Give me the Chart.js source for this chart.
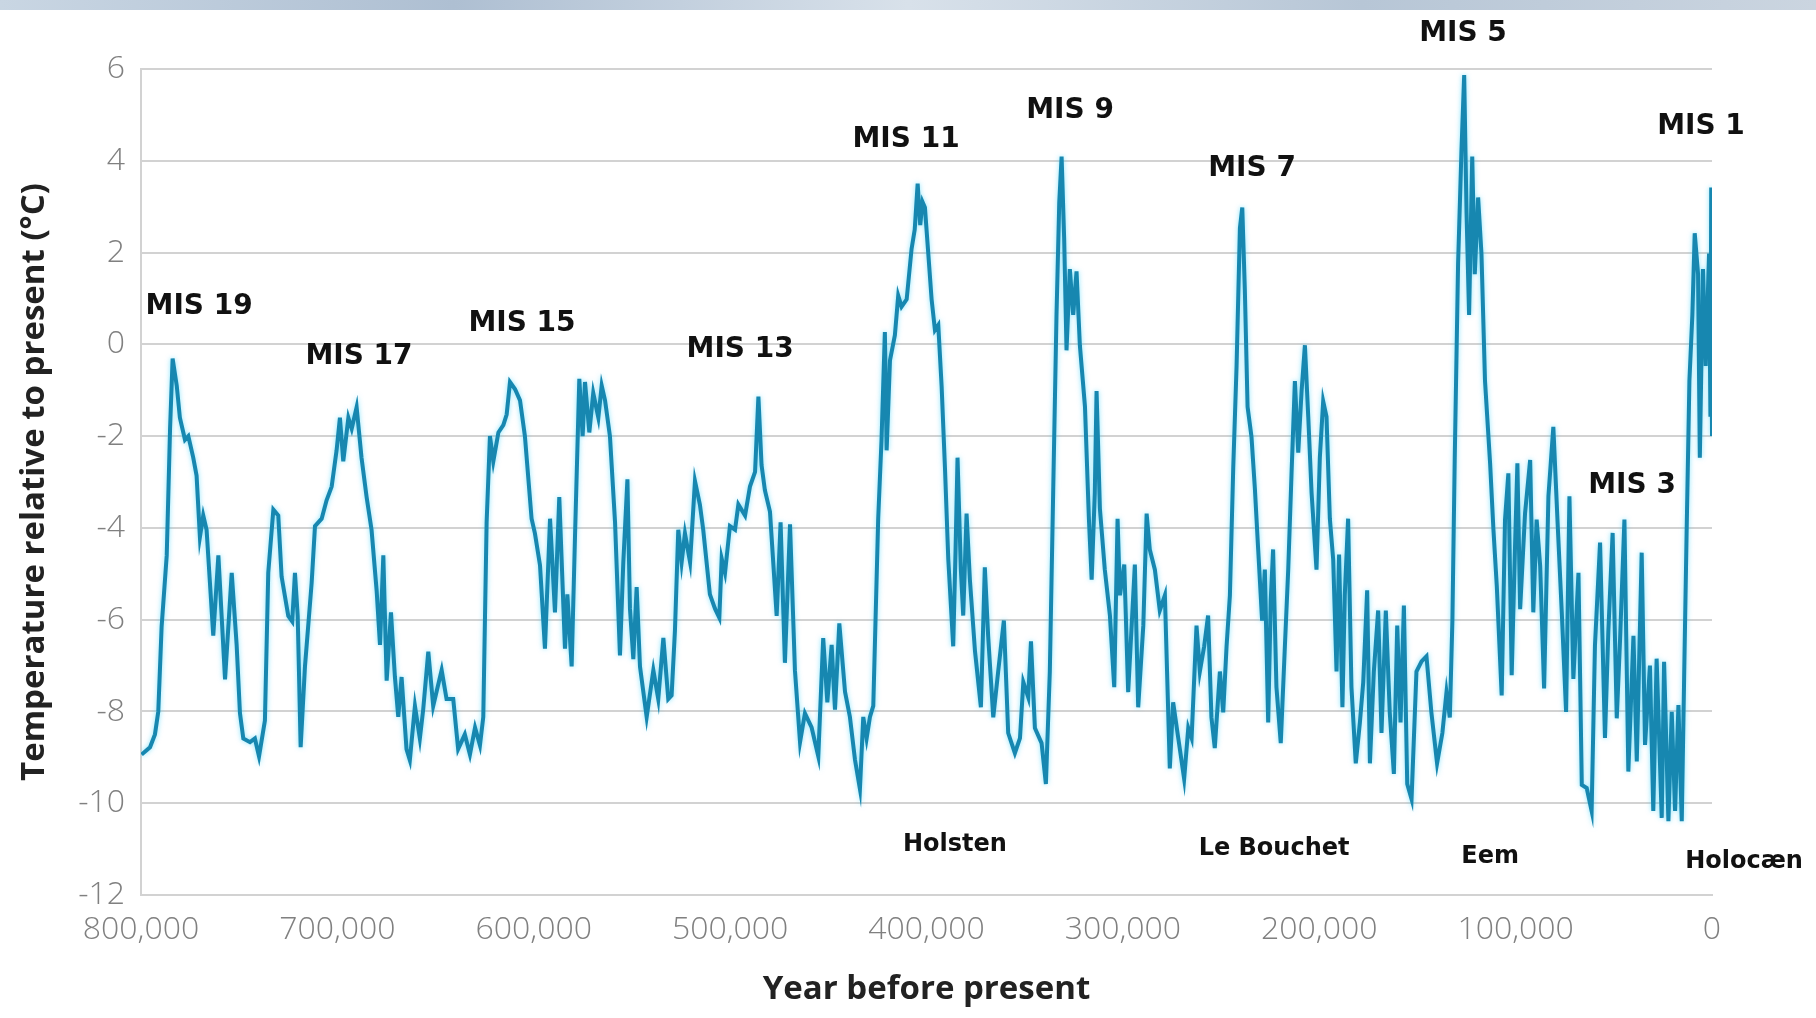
<!DOCTYPE html>
<html>
<head>
<meta charset="utf-8">
<title>Temperature relative to present — 800,000 years</title>
<script src="https://cdn.jsdelivr.net/npm/chart.js@4.4.0/dist/chart.umd.min.js"></script>
<style>
  html, body { margin: 0; padding: 0; background: #fff; }
  #wrap { width: 1816px; height: 1018px; }
</style>
</head>
<body>
<div id="wrap"><canvas id="chart-temp" width="1816" height="1018"></canvas></div>
<script>
// Curve, split in blocks (age in ka before present, oldest first)

// MIS 19 – MIS 15 rise
const ageA = [
  799.7, 795.4, 792.9, 791.2, 789.5, 786.9, 785.2, 783.9, 781.8, 780.2,
  777.6, 775.9, 773.4, 771.7, 770.0, 768.3, 766.6, 763.2, 760.6, 757.2,
  753.8, 751.3, 749.6, 747.9, 744.5, 742.0, 739.9, 736.9, 735.2, 732.6,
  730.1, 728.4, 725.0, 723.0, 721.6, 720.2, 718.7, 716.5, 713.1, 711.4,
  708.0, 705.5, 702.9, 700.4, 698.7, 697.0, 694.4, 692.7, 690.2, 687.7,
  685.1, 682.6, 680.0, 678.3, 676.6, 674.9, 672.7, 670.7, 669.0, 667.3,
  664.8, 663.1, 660.5, 658.0, 656.3, 653.7, 651.2, 649.5, 646.9, 644.4,
  641.0, 638.5, 635.1, 632.5, 629.9, 627.4, 625.7, 624.0, 622.3, 620.6,
  618.0, 615.5, 613.8, 612.1, 609.5, 607.0, 604.5, 601.1
];
const tempA = [
  -8.94, -8.78, -8.50, -8.00, -6.15, -4.60, -1.84, -0.31, -0.90, -1.60,
  -2.08, -2.00, -2.47, -2.86, -4.20, -3.73, -4.04, -6.35, -4.60, -7.30,
  -4.98, -6.55, -8.04, -8.59, -8.67, -8.59, -8.98, -8.20, -4.98, -3.60,
  -3.73, -5.06, -5.92, -6.04, -4.98, -5.92, -8.78, -7.02, -5.20, -3.96,
  -3.80, -3.40, -3.10, -2.31, -1.60, -2.55, -1.60, -1.84, -1.37, -2.47,
  -3.33, -4.04, -5.37, -6.55, -4.60, -7.33, -5.84, -7.25, -8.12, -7.25,
  -8.82, -9.06, -7.88, -8.59, -7.96, -6.70, -7.88, -7.57, -7.10, -7.73,
  -7.73, -8.82, -8.50, -8.94, -8.35, -8.74, -8.12, -3.88, -2.00, -2.55,
  -1.92, -1.76, -1.53, -0.82, -0.98, -1.22, -2.00, -3.80
];

// MIS 15 – MIS 11 peak
const ageB = [
  599.4, 596.8, 594.3, 591.7, 589.2, 587.0, 584.1, 582.9, 580.7, 579.0,
  576.8, 575.1, 573.9, 571.7, 569.7, 567.1, 565.4, 563.7, 561.2, 558.6,
  556.1, 554.4, 552.3, 551.0, 549.3, 547.6, 545.9, 542.5, 539.1, 536.6,
  534.0, 531.5, 529.8, 528.1, 526.4, 524.7, 523.0, 520.4, 517.9, 515.4,
  513.7, 510.3, 507.7, 505.5, 504.3, 502.6, 500.1, 497.5, 495.8, 492.4,
  489.9, 487.3, 485.6, 484.0, 482.3, 479.7, 476.3, 474.3, 472.1, 469.5,
  467.0, 464.4, 461.9, 458.5, 455.1, 452.6, 450.5, 448.3, 446.6, 444.4,
  441.5, 439.0, 436.4, 433.9, 432.2, 430.5, 428.8, 427.1, 424.6, 422.9,
  421.2, 420.3, 418.6, 416.1, 414.4, 412.7, 410.1, 407.6, 406.0, 404.5,
  403.2, 402.0
];
const tempB = [
  -4.12, -4.82, -6.63, -3.80, -5.84, -3.33, -6.63, -5.45, -7.02, -4.20,
  -0.75, -2.00, -0.82, -1.92, -1.06, -1.60, -0.90, -1.22, -2.00, -3.88,
  -6.78, -4.75, -2.94, -5.76, -6.86, -5.29, -7.02, -8.12, -7.10, -7.73,
  -6.40, -7.73, -7.65, -6.24, -4.04, -4.75, -4.12, -4.75, -2.98, -3.49,
  -4.04, -5.45, -5.76, -5.96, -4.67, -4.98, -3.96, -4.04, -3.49, -3.73,
  -3.10, -2.78, -1.14, -2.63, -3.18, -3.65, -5.92, -3.88, -6.94, -3.92,
  -7.10, -8.67, -8.04, -8.35, -8.98, -6.40, -7.80, -6.55, -7.96, -6.08,
  -7.57, -8.12, -9.06, -9.69, -8.12, -8.59, -8.12, -7.88, -3.80, -2.08,
  0.27, -2.31, -0.35, 0.20, 1.06, 0.82, 0.98, 2.08, 2.50, 3.50,
  2.60, 3.10
];

// MIS 11 – MIS 7
const ageC = [
  400.8, 399.1, 397.4, 395.7, 394.0, 392.3, 390.6, 388.9, 386.4, 385.2,
  384.2, 382.5, 381.3, 379.6, 377.9, 375.3, 372.3, 370.3, 368.6, 366.0,
  363.5, 360.6, 358.4, 355.0, 352.4, 350.7, 348.2, 346.8, 344.8, 341.4,
  339.2, 337.2, 335.5, 333.8, 332.4, 331.2, 329.9, 328.7, 327.0, 325.3,
  323.6, 321.9, 319.3, 317.3, 315.9, 314.3, 313.4, 311.7, 309.2, 306.6,
  304.4, 302.7, 301.5, 299.3, 297.3, 293.9, 292.2, 289.6, 287.9, 286.3,
  283.7, 281.2, 278.6, 276.1, 274.4, 271.8, 268.8, 266.7, 265.0, 262.5,
  260.8, 258.6, 256.6, 254.9, 253.2, 250.6, 248.9, 247.2, 245.5, 243.8,
  242.1, 240.4, 239.2, 237.9, 236.5, 234.5, 232.8, 231.1, 229.1, 227.7,
  226.0, 224.7, 223.5, 221.8, 219.6, 217.5, 215.8, 214.1, 212.4, 210.7,
  209.0, 207.3, 205.6, 203.9, 201.4
];
const tempC = [
  2.98, 1.98, 0.98, 0.31, 0.42, -0.91, -2.69, -4.69, -6.58, -4.47,
  -2.47, -4.91, -5.91, -3.69, -5.13, -6.69, -7.91, -4.86, -6.36, -8.13,
  -7.13, -6.02, -8.47, -8.91, -8.58, -7.36, -7.69, -6.47, -8.36, -8.69,
  -9.58, -7.13, -3.24, 0.64, 3.09, 4.09, 2.31, -0.13, 1.64, 0.64,
  1.59, -0.02, -1.36, -3.80, -5.13, -3.24, -1.02, -3.58, -4.91, -5.91,
  -7.47, -3.80, -5.47, -4.80, -7.58, -4.80, -7.91, -6.13, -3.69, -4.47,
  -4.91, -5.80, -5.47, -9.24, -7.80, -8.58, -9.47, -8.36, -8.58, -6.13,
  -7.13, -6.58, -5.91, -8.13, -8.80, -7.13, -8.02, -6.58, -5.47, -2.69,
  -0.47, 2.53, 2.98, 1.20, -1.36, -2.02, -3.13, -4.47, -6.02, -4.91,
  -8.24, -5.58, -4.47, -7.47, -8.69, -6.58, -4.91, -2.80, -0.80, -2.36,
  -1.02, -0.02, -1.58, -3.24, -4.91
];

// late MIS 7 – MIS 5 peak
const ageD = [
  199.7, 198.0, 196.3, 194.6, 192.9, 191.2, 189.9, 188.2, 187.0, 185.3,
  183.6, 181.4, 179.3, 177.6, 175.6, 174.2, 172.2, 170.0, 168.3, 166.1,
  164.1, 162.0, 160.3, 158.6, 156.9, 155.2, 153.0, 150.5, 147.9, 145.4,
  142.9, 140.0, 137.3, 135.2, 133.5, 132.2, 131.0, 129.3, 127.6, 126.2,
  125.0, 123.7, 122.1, 120.8, 119.1, 117.4
];
const tempD = [
  -2.47, -1.24, -1.58, -3.80, -4.69, -7.13, -4.58, -7.91, -5.47, -3.80,
  -7.47, -9.13, -8.24, -7.36, -5.36, -9.13, -7.13, -5.80, -8.47, -5.80,
  -8.02, -9.36, -6.13, -8.24, -5.69, -9.58, -9.91, -7.13, -6.91, -6.80,
  -8.02, -9.13, -8.47, -7.58, -8.13, -6.02, -2.47, 1.76, 4.20, 5.87,
  2.87, 0.64, 4.09, 1.53, 3.20, 1.98
];

// last glacial
const ageE = [
  115.6, 113.0, 111.3, 109.6, 107.1, 105.4, 103.7, 102.0, 100.3, 99.1,
  97.7, 95.2, 92.6, 91.0, 89.3, 87.5, 85.5, 83.3, 80.8, 78.7,
  76.5, 74.3, 72.6, 70.6, 68.0, 66.3, 63.8, 61.3, 59.6, 57.0,
  54.5, 52.8, 50.6, 48.5, 46.8, 44.6, 42.6, 40.0, 38.3, 35.8,
  34.1, 31.6, 29.9, 28.2, 25.6, 24.4, 22.2, 20.5, 18.8, 17.1,
  15.4, 14.2, 12.9, 11.5
];
const tempE = [
  -0.79, -2.59, -4.04, -5.26, -7.65, -3.82, -2.81, -7.21, -4.40, -2.59,
  -5.77, -3.68, -2.52, -5.84, -3.82, -4.83, -7.50, -3.31, -1.80, -3.82,
  -5.84, -8.01, -3.31, -7.29, -4.98, -9.60, -9.67, -10.17, -6.56, -4.32,
  -8.58, -6.27, -4.11, -8.15, -6.42, -3.82, -9.31, -6.35, -9.09, -4.54,
  -8.73, -7.00, -10.17, -6.85, -10.32, -6.92, -10.39, -8.01, -10.17, -7.86,
  -10.39, -7.29, -4.04, -0.79
];

// Holocene
const ageF = [10.0, 8.8, 7.1, 6.2, 4.6, 3.2, 1.5, 0.8, 0.4, 0.0];
const tempF = [0.64, 2.42, 1.53, -2.47, 1.64, -0.47, 1.98, -1.58, 3.42, -2.00];

const xTickValues = [800000, 700000, 600000, 500000, 400000, 300000, 200000, 100000, 0];
const yTickValues = [-12, -10, -8, -6, -4, -2, 0, 2, 4, 6];

// Marine isotope stage labels, anchored in data space (ka, °C)
const stageNames = ['MIS 19', 'MIS 17', 'MIS 15', 'MIS 13', 'MIS 11', 'MIS 9', 'MIS 7', 'MIS 5', 'MIS 3', 'MIS 1'];
const stageAgeKa = [770.4, 689.0, 606.0, 494.9, 410.4, 326.9, 234.2, 126.8, 40.7, 5.6];
const stageTemp = [0.81, -0.27, 0.44, -0.12, 4.45, 5.08, 3.82, 6.76, -3.08, 4.74];

// Interglacial names along the bottom
const warmNames = ['Holsten', 'Le Bouchet', 'Eem', 'Holocæn'];
const warmAgeKa = [385.5, 223.0, 113.0, -16.3];
const warmTemp = [-10.91, -10.99, -11.17, -11.28];

document.addEventListener('DOMContentLoaded', function () {
  const COLORS = {
    line: '#1787b0',
    glow: 'rgba(60, 210, 250, 0.6)',
    grid: '#d2d2d2',
    tick: '#808080',
    title: '#222222',
    label: '#111111',
  };

  const ages = [].concat(ageA, ageB, ageC, ageD, ageE, ageF);
  const temps = [].concat(tempA, tempB, tempC, tempD, tempE, tempF);
  const points = ages.map((a, i) => ({ x: a * 1000, y: temps[i] }));

  // white page with the icy strip along the top edge
  const backdrop = {
    id: 'backdrop',
    beforeDraw(chart) {
      const ctx = chart.ctx;
      ctx.save();
      ctx.fillStyle = '#ffffff';
      ctx.fillRect(0, 0, chart.width, chart.height);
      const g = ctx.createLinearGradient(0, 0, chart.width, 0);
      g.addColorStop(0, '#c9d6e3');
      g.addColorStop(0.25, '#aebfd2');
      g.addColorStop(0.5, '#d8e1ea');
      g.addColorStop(0.75, '#b7c6d6');
      g.addColorStop(1, '#cbd5e0');
      ctx.fillStyle = g;
      ctx.fillRect(0, 0, chart.width, 10);
      ctx.restore();
    },
  };

  // soft cyan halo around the curve
  const glow = {
    id: 'glow',
    beforeDatasetDraw(chart) {
      chart.ctx.save();
      chart.ctx.shadowColor = COLORS.glow;
      chart.ctx.shadowBlur = 5;
    },
    afterDatasetDraw(chart) {
      chart.ctx.restore();
    },
  };

  const stageLabels = {
    id: 'stageLabels',
    afterDraw(chart) {
      const { ctx, scales } = chart;
      ctx.save();
      ctx.fillStyle = COLORS.label;
      ctx.textAlign = 'center';
      ctx.textBaseline = 'middle';
      ctx.font = 'bold 28px "DejaVu Sans", sans-serif';
      stageNames.forEach((name, i) => {
        ctx.fillText(name, scales.x.getPixelForValue(stageAgeKa[i] * 1000), scales.y.getPixelForValue(stageTemp[i]));
      });
      ctx.font = 'bold 24px "DejaVu Sans", sans-serif';
      warmNames.forEach((name, i) => {
        ctx.fillText(name, scales.x.getPixelForValue(warmAgeKa[i] * 1000), scales.y.getPixelForValue(warmTemp[i]));
      });
      ctx.restore();
    },
  };

  new Chart(document.getElementById('chart-temp'), {
    type: 'line',
    data: {
      datasets: [{
        label: 'Temperature',
        data: points,
        borderColor: COLORS.line,
        borderWidth: 4,
        borderJoinStyle: 'miter',
        pointRadius: 0,
        tension: 0,
        fill: false,
      }],
    },
    options: {
      responsive: false,
      animation: false,
      layout: { padding: { top: 69, right: 104, left: 0, bottom: 0 } },
      plugins: {
        legend: { display: false },
        tooltip: { enabled: false },
      },
      scales: {
        x: {
          type: 'linear',
          reverse: true,
          min: 0,
          max: 800000,
          afterFit: s => { s.height = 123; },
          afterBuildTicks: s => { s.ticks = xTickValues.map(v => ({ value: v })); },
          grid: { display: false, drawTicks: false },
          border: { display: true, color: COLORS.grid, width: 2 },
          ticks: {
            color: COLORS.tick,
            padding: 16,
            maxRotation: 0,
            autoSkip: false,
            font: { size: 32, family: '"Open Sans", sans-serif', weight: '300' },
            callback: v => v.toLocaleString('en-US'),
          },
          title: {
            display: true,
            text: 'Year before present',
            color: COLORS.title,
            padding: { top: 0, bottom: 9 },
            font: { size: 33, family: '"Open Sans", sans-serif', weight: 'bold' },
          },
        },
        y: {
          min: -12,
          max: 6,
          afterFit: s => { s.width = 141; },
          afterBuildTicks: s => { s.ticks = yTickValues.map(v => ({ value: v })); },
          grid: { color: COLORS.grid, lineWidth: 2, drawTicks: false },
          border: { display: true, color: COLORS.grid, width: 2 },
          ticks: {
            color: COLORS.tick,
            padding: 16,
            font: { size: 32, family: '"Open Sans", sans-serif', weight: '300' },
            callback: v => String(v),
          },
          title: {
            display: true,
            text: 'Temperature relative to present (°C)',
            color: COLORS.title,
            padding: { top: 15, bottom: 0 },
            font: { size: 33, family: '"Open Sans", sans-serif', weight: 'bold' },
          },
        },
      },
    },
    plugins: [backdrop, glow, stageLabels],
  });
});
</script>
</body>
</html>
